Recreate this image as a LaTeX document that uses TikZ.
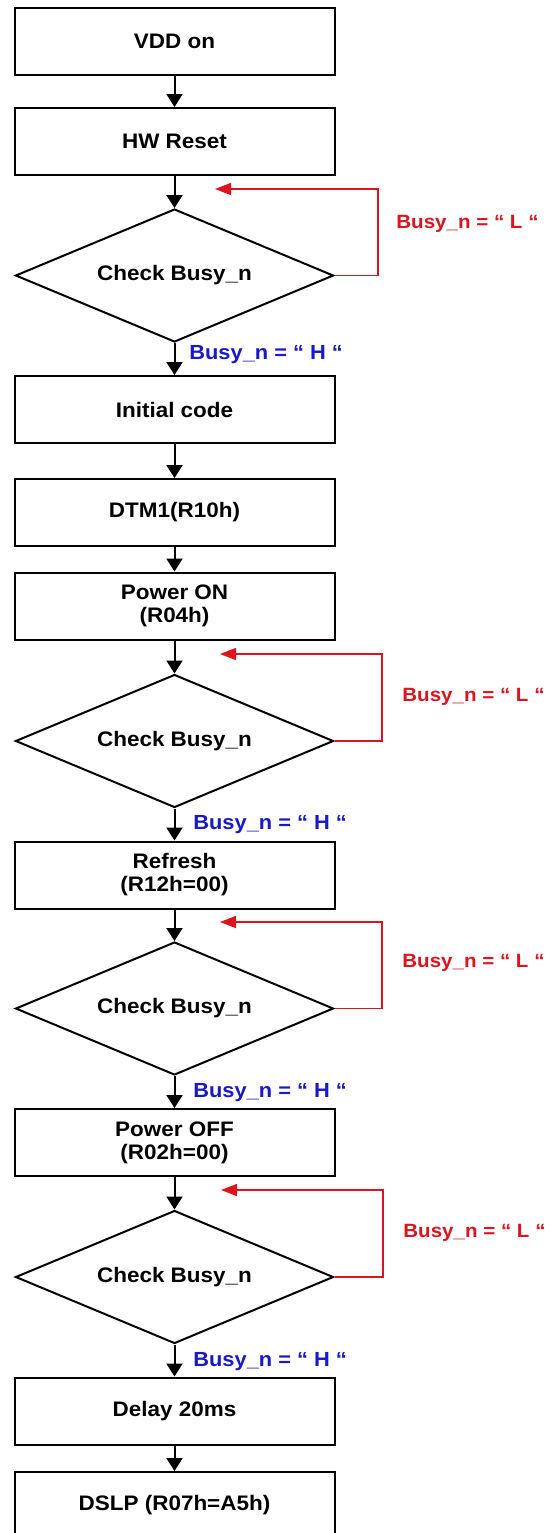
\documentclass[tikz,border=0pt]{standalone}
\usepackage{fontspec}
\setmainfont{Liberation Sans}[FakeStretch=1.07]
\usetikzlibrary{shapes.geometric,arrows.meta}
\definecolor{loopred}{RGB}{220,20,30}
\definecolor{okblue}{RGB}{25,25,200}
\begin{document}
\begin{tikzpicture}[x=0.5pt,y=-0.5pt,
  font=\fontsize{10.5}{11.5}\selectfont\bfseries,
  stepbox/.style={draw,line width=1pt,minimum width=160pt,minimum height=33.5pt,inner sep=0pt,align=center},
  check/.style={draw,diamond,line width=1pt,minimum width=159pt,minimum height=66.5pt,inner sep=0pt,aspect=2.4},
  flow/.style={line width=1pt,-{Triangle[length=6.5pt,width=8pt]}},
  back/.style={draw=loopred,line width=0.75pt,-{Triangle[length=8pt,width=6pt]}},
  lowlab/.style={text=loopred,anchor=west,inner sep=0pt,font=\fontsize{9.6}{11}\selectfont\bfseries},
  highlab/.style={text=okblue,anchor=west,inner sep=0pt,font=\fontsize{10.2}{11}\selectfont\bfseries}
]
\useasboundingbox (0,0) rectangle (560,1533);

\node[stepbox] (vdd) at (174.5,41.5) {VDD on};
\node[stepbox] (hw) at (174.5,141.5) {HW Reset};
\node[check] (c1) at (174.5,275.5) {Check Busy\_n};
\node[stepbox] (init) at (174.5,409.5) {Initial code};
\node[stepbox] (dtm) at (174.5,512.5) {DTM1(R10h)};
\node[stepbox] (pon) at (174.5,606) {Power ON\\(R04h)};
\node[check] (c2) at (174.5,741) {Check Busy\_n};
\node[stepbox] (ref) at (174.5,875) {Refresh\\(R12h=00)};
\node[check] (c3) at (174.5,1008.5) {Check Busy\_n};
\node[stepbox] (poff) at (174.5,1142.5) {Power OFF\\(R02h=00)};
\node[check] (c4) at (174.5,1277) {Check Busy\_n};
\node[stepbox] (dly) at (174.5,1411) {Delay 20ms};
\node[stepbox] (dslp) at (174.5,1505.5) {DSLP (R07h=A5h)};

\draw[flow] (vdd) -- (hw);
\draw[flow] (hw) -- (c1);
\draw[flow] (c1) -- (init);
\draw[flow] (init) -- (dtm);
\draw[flow] (dtm) -- (pon);
\draw[flow] (pon) -- (c2);
\draw[flow] (c2) -- (ref);
\draw[flow] (ref) -- (c3);
\draw[flow] (c3) -- (poff);
\draw[flow] (poff) -- (c4);
\draw[flow] (c4) -- (dly);
\draw[flow] (dly) -- (dslp);

\coordinate (t1) at (215,189);  \coordinate (k1) at (378,189);
\coordinate (t2) at (220,654);  \coordinate (k2) at (382,654);
\coordinate (t3) at (220,922);  \coordinate (k3) at (382,922);
\coordinate (t4) at (221,1190); \coordinate (k4) at (383,1190);
\draw[back] (c1.east) -| (k1) -- (t1);
\draw[back] (c2.east) -| (k2) -- (t2);
\draw[back] (c3.east) -| (k3) -- (t3);
\draw[back] (c4.east) -| (k4) -- (t4);

\node[lowlab] (l1) at (396,224) {Busy\_n = “ L “};
\node[lowlab] (l2) at (402,697) {Busy\_n = “ L “};
\node[lowlab] (l3) at (402,963) {Busy\_n = “ L “};
\node[lowlab] (l4) at (403,1233) {Busy\_n = “ L “};

\node[highlab] (h1) at (189,355) {Busy\_n = “ H “};
\node[highlab] (h2) at (193,825) {Busy\_n = “ H “};
\node[highlab] (h3) at (193,1093) {Busy\_n = “ H “};
\node[highlab] (h4) at (193,1362) {Busy\_n = “ H “};
\end{tikzpicture}
\end{document}
